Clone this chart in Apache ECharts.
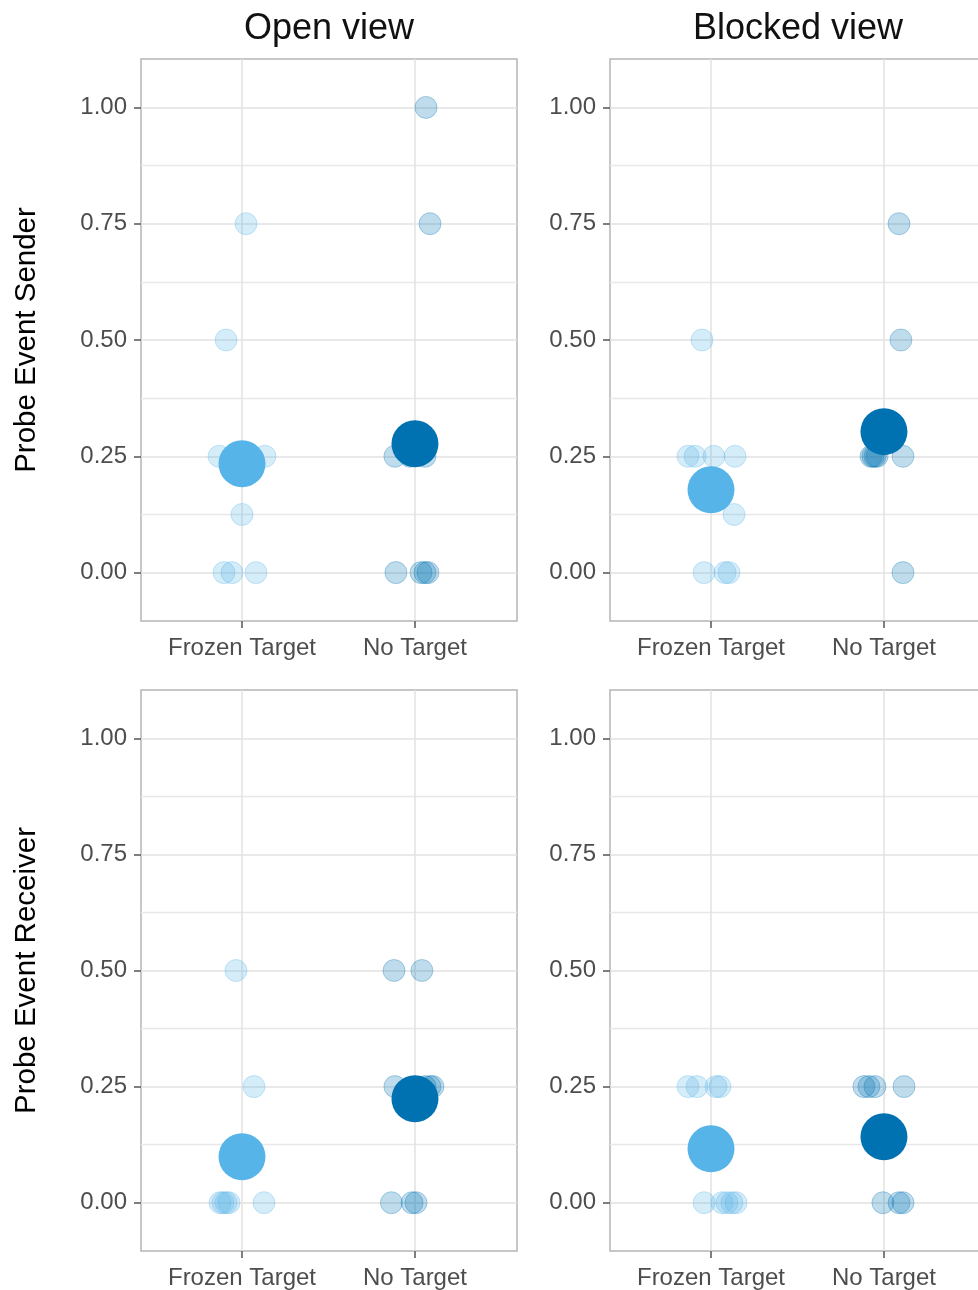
<!DOCTYPE html>
<html>
<head>
<meta charset="utf-8">
<title>Probe events by view</title>
<script src="https://cdn.jsdelivr.net/npm/echarts@6/dist/echarts.min.js"></script>
<style>
  html, body { margin: 0; padding: 0; background: #fff; overflow: hidden; }
  #chart { width: 992px; height: 1290px; }
</style>
</head>
<body>
<div id="chart"></div>
<script>
const categories = ['Frozen Target', 'No Target']
const views = ['Open view', 'Blocked view']
const probes = ['Probe Event Sender', 'Probe Event Receiver']
const yTicks = [0, 0.25, 0.5, 0.75, 1]
const yMinor = [0.125, 0.375, 0.625, 0.875]
const colors = ['#56B4E9', '#0072B2']
const fadedFill = ['rgba(86,180,233,0.25)', 'rgba(0,114,178,0.25)']
const fadedEdge = ['rgba(86,180,233,0.3)', 'rgba(0,114,178,0.3)']

// single observations: [horizontal jitter, value]
const openSenderFrozen = [[0.023, 0.75], [-0.092, 0.5], [-0.133, 0.25], [0.133, 0.25], [0, 0.125], [-0.104, 0], [-0.058, 0], [0.081, 0]]
const openSenderNone = [[0.064, 1], [0.087, 0.75], [-0.116, 0.25], [-0.029, 0.25], [0.058, 0.25], [-0.110, 0], [0.035, 0], [0.058, 0], [0.075, 0]]
const blockedSenderFrozen = [[-0.052, 0.5], [-0.133, 0.25], [-0.092, 0.25], [0.017, 0.25], [0.139, 0.25], [0.133, 0.125], [-0.040, 0], [0.081, 0], [0.104, 0]]
const blockedSenderNone = [[0.087, 0.75], [0.098, 0.5], [-0.075, 0.25], [-0.064, 0.25], [-0.052, 0.25], [-0.040, 0.25], [0.110, 0.25], [0.110, 0]]
const openReceiverFrozen = [[-0.035, 0.5], [0.069, 0.25], [-0.127, 0], [-0.110, 0], [-0.092, 0], [-0.075, 0], [0.127, 0]]
const openReceiverNone = [[-0.121, 0.5], [0.040, 0.5], [-0.116, 0.25], [0.058, 0.25], [0.087, 0.25], [0.104, 0.25], [-0.136, 0], [-0.017, 0], [0.006, 0]]
const blockedReceiverFrozen = [[-0.133, 0.25], [-0.081, 0.25], [0.029, 0.25], [0.052, 0.25], [-0.040, 0], [0.064, 0], [0.092, 0], [0.121, 0], [0.145, 0]]
const blockedReceiverNone = [[-0.116, 0.25], [-0.087, 0.25], [-0.052, 0.25], [0.116, 0.25], [-0.006, 0], [0.087, 0], [0.110, 0]]

// group means, one per category
const openSenderMeans = [0.234, 0.277]
const blockedSenderMeans = [0.178, 0.303]
const openReceiverMeans = [0.099, 0.224]
const blockedReceiverMeans = [0.116, 0.142]

const panels = [
  { frozen: openSenderFrozen, none: openSenderNone, means: openSenderMeans },
  { frozen: blockedSenderFrozen, none: blockedSenderNone, means: blockedSenderMeans },
  { frozen: openReceiverFrozen, none: openReceiverNone, means: openReceiverMeans },
  { frozen: blockedReceiverFrozen, none: blockedReceiverNone, means: blockedReceiverMeans }
]

const font = "'Liberation Sans', Arial, sans-serif"
const gridLeft = [141, 610]
const gridTop = [59, 690]
const gridLine = { color: '#e2e2e2', width: 1.5 }
const tickLine = { color: '#555', width: 1.5 }

const grids = []
const xAxes = []
const yAxes = []
const series = []

panels.forEach((p, i) => {
  const col = i % 2
  const row = Math.floor(i / 2)
  grids.push({
    left: gridLeft[col], top: gridTop[row], width: 376, height: 562,
    show: true, borderColor: '#b5b5b5', borderWidth: 1.5, backgroundColor: '#fff'
  })
  xAxes.push({
    type: 'value', gridIndex: i, min: 0.416, max: 2.59,
    axisLine: { show: false, onZero: false },
    axisTick: { show: true, length: 7, lineStyle: tickLine, customValues: [1, 2] },
    axisLabel: {
      customValues: [1, 2],
      formatter: v => categories[Math.round(v) - 1],
      color: '#4d4d4d', fontSize: 24, fontFamily: font, margin: 15
    },
    splitLine: { show: true, lineStyle: gridLine }
  })
  yAxes.push({
    type: 'value', gridIndex: i, min: -0.104, max: 1.104,
    name: col === 0 ? probes[row] : '',
    nameLocation: 'middle', nameGap: 99,
    nameTextStyle: { color: '#000', fontSize: 29.5, fontFamily: font },
    axisLine: { show: false, onZero: false },
    axisTick: { show: true, length: 7, lineStyle: tickLine, customValues: yTicks },
    axisLabel: {
      customValues: yTicks,
      formatter: v => v.toFixed(2),
      color: '#4d4d4d', fontSize: 24, fontFamily: font, margin: 14
    },
    splitLine: { show: true, lineStyle: gridLine }
  })
  // minor grid lines
  yAxes.push({
    type: 'value', gridIndex: i, min: -0.104, max: 1.104, position: 'left',
    axisLine: { show: false, onZero: false },
    axisTick: { show: false, customValues: yMinor },
    axisLabel: { show: false, customValues: yMinor },
    splitLine: { show: true, lineStyle: { color: '#e8e8e8', width: 1.3 } }
  })
  ;[p.frozen, p.none].forEach((pts, k) => {
    series.push({
      type: 'scatter', xAxisIndex: i, yAxisIndex: 2 * i,
      symbolSize: 22,
      itemStyle: { color: fadedFill[k], borderColor: fadedEdge[k], borderWidth: 1, opacity: 1 },
      data: pts.map(([j, v]) => [k + 1 + j, v])
    })
  })
  series.push({
    type: 'scatter', xAxisIndex: i, yAxisIndex: 2 * i,
    symbolSize: 47, z: 3,
    data: p.means.map((m, k) => ({ value: [k + 1, m], itemStyle: { color: colors[k], opacity: 1 } }))
  })
})

const chart = echarts.init(document.getElementById('chart'))
chart.setOption({
  animation: false,
  backgroundColor: '#fff',
  title: views.map((v, c) => ({
    text: v, left: gridLeft[c] + 188, top: 11, textAlign: 'center', padding: 0,
    textStyle: { fontSize: 36, fontWeight: 'normal', color: '#111', fontFamily: font }
  })),
  grid: grids,
  xAxis: xAxes,
  yAxis: yAxes,
  series: series
})
</script>
</body>
</html>
